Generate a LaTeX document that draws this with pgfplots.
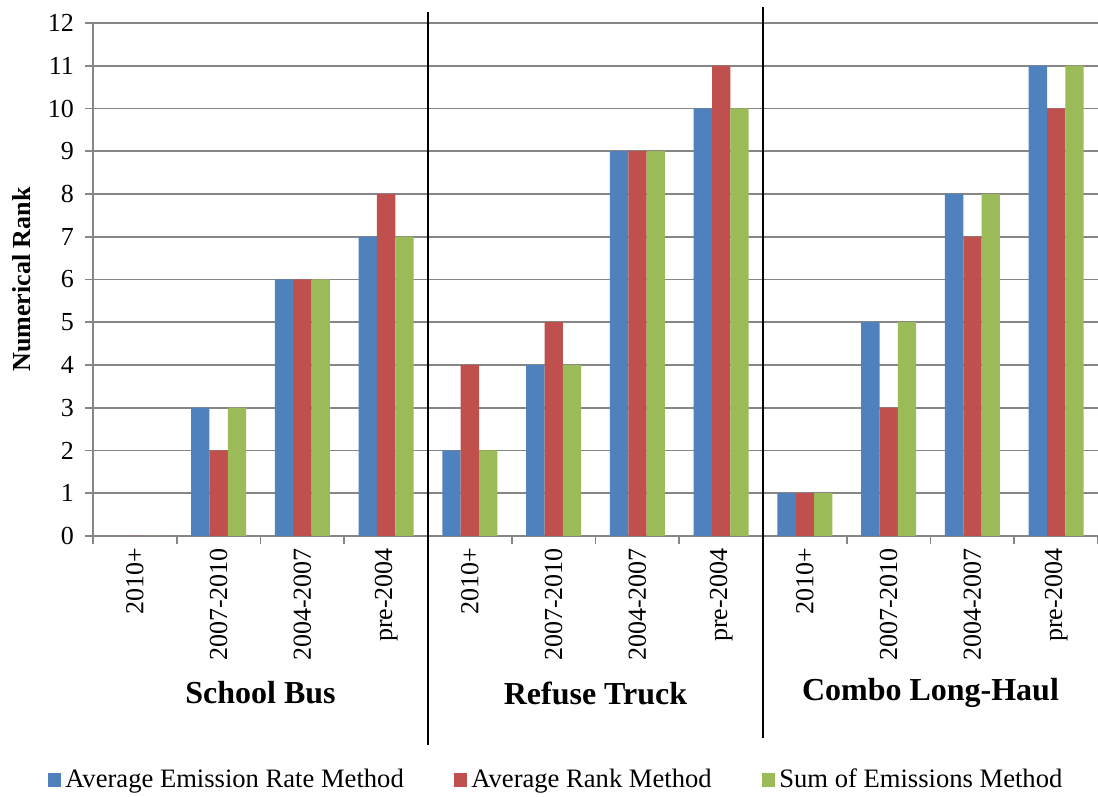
\documentclass[border=0pt]{standalone}
\usepackage{pgfplots}
\pgfplotsset{compat=1.18}
\usepackage{fontspec}
\setmainfont{Liberation Serif}
\definecolor{cblue}{HTML}{4F81BD}
\definecolor{cred}{HTML}{C0504D}
\definecolor{cgreen}{HTML}{9BBB59}
\definecolor{gridgray}{HTML}{868686}
\begin{document}
\begin{tikzpicture}
\begin{axis}[
  at={(0,0)}, anchor=south west,
  scale only axis,
  width=502.5pt, height=256.5pt,
  xmin=-0.5, xmax=11.5, ymin=0, ymax=12,
  ybar=0pt, bar width=0.218,
  axis x line*=bottom, axis y line*=left,
  axis line style={gridgray, line width=0.8pt, -},
  ytick={0,1,...,12},
  ymajorgrids, grid style={gridgray, line width=0.8pt},
  xtick={0,1,...,11},
  xticklabels={2010+,2007-2010,2004-2007,pre-2004,2010+,2007-2010,2004-2007,pre-2004,2010+,2007-2010,2004-2007,pre-2004},
  minor xtick={-0.5,0.5,...,11.5},
  tick align=outside,
  major x tick style={draw=none},
  minor tick length=4pt,
  major tick length=4pt,
  tick style={gridgray, line width=0.8pt},
  xticklabel style={rotate=90, anchor=east, font=\fontsize{13}{15}\selectfont, xshift=1.5pt},
  yticklabel style={font=\fontsize{13}{15}\selectfont, xshift=-2pt},
  /pgf/number format/assume math mode=true,
  ylabel={\textbf{Numerical Rank}},
  ylabel style={font=\fontsize{13}{15}\selectfont, at={(axis description cs:-0.0707,0.5)}, anchor=center},
  clip=false,
  legend columns=3,
  legend style={draw=none, at={(rel axis cs:0.4617,-0.4756)}, anchor=center,
    font=\fontsize{13.3}{15}\selectfont,
    /tikz/every even column/.append style={column sep=23pt}},
  legend image code/.code={\fill[#1] (0pt,-3.3pt) rectangle (6.8pt,3.3pt);},
]
\addplot[fill=cblue, draw=none] coordinates {(0,0) (1,3) (2,6) (3,7) (4,2) (5,4) (6,9) (7,10) (8,1) (9,5) (10,8) (11,11)};
\addplot[fill=cred, draw=none] coordinates {(0,0) (1,2) (2,6) (3,8) (4,4) (5,5) (6,9) (7,11) (8,1) (9,3) (10,7) (11,10)};
\addplot[fill=cgreen, draw=none] coordinates {(0,0) (1,3) (2,6) (3,7) (4,2) (5,4) (6,9) (7,10) (8,1) (9,5) (10,8) (11,11)};
\legend{Average Emission Rate Method, Average Rank Method, Sum of Emissions Method}
\draw[black, line width=0.9pt] ([yshift=5.5pt]axis cs:3.5,12) -- ([yshift=-104.5pt]axis cs:3.5,0);
\draw[black, line width=0.9pt] ([yshift=8pt]axis cs:7.5,12) -- ([yshift=-101pt]axis cs:7.5,0);
\node[font=\bfseries\fontsize{16}{19}\selectfont] at ([yshift=-78.5pt]axis cs:1.5,0) {School Bus};
\node[font=\bfseries\fontsize{16}{19}\selectfont] at ([yshift=-78.5pt]axis cs:5.5,0) {Refuse Truck};
\node[font=\bfseries\fontsize{16}{19}\selectfont] at ([yshift=-78.5pt]axis cs:9.5,0) {Combo Long-Haul};
\end{axis}
\pgfresetboundingbox
\path[use as bounding box] (-46.5pt,-130.5pt) rectangle (502.5pt,268pt);
\end{tikzpicture}
\end{document}
